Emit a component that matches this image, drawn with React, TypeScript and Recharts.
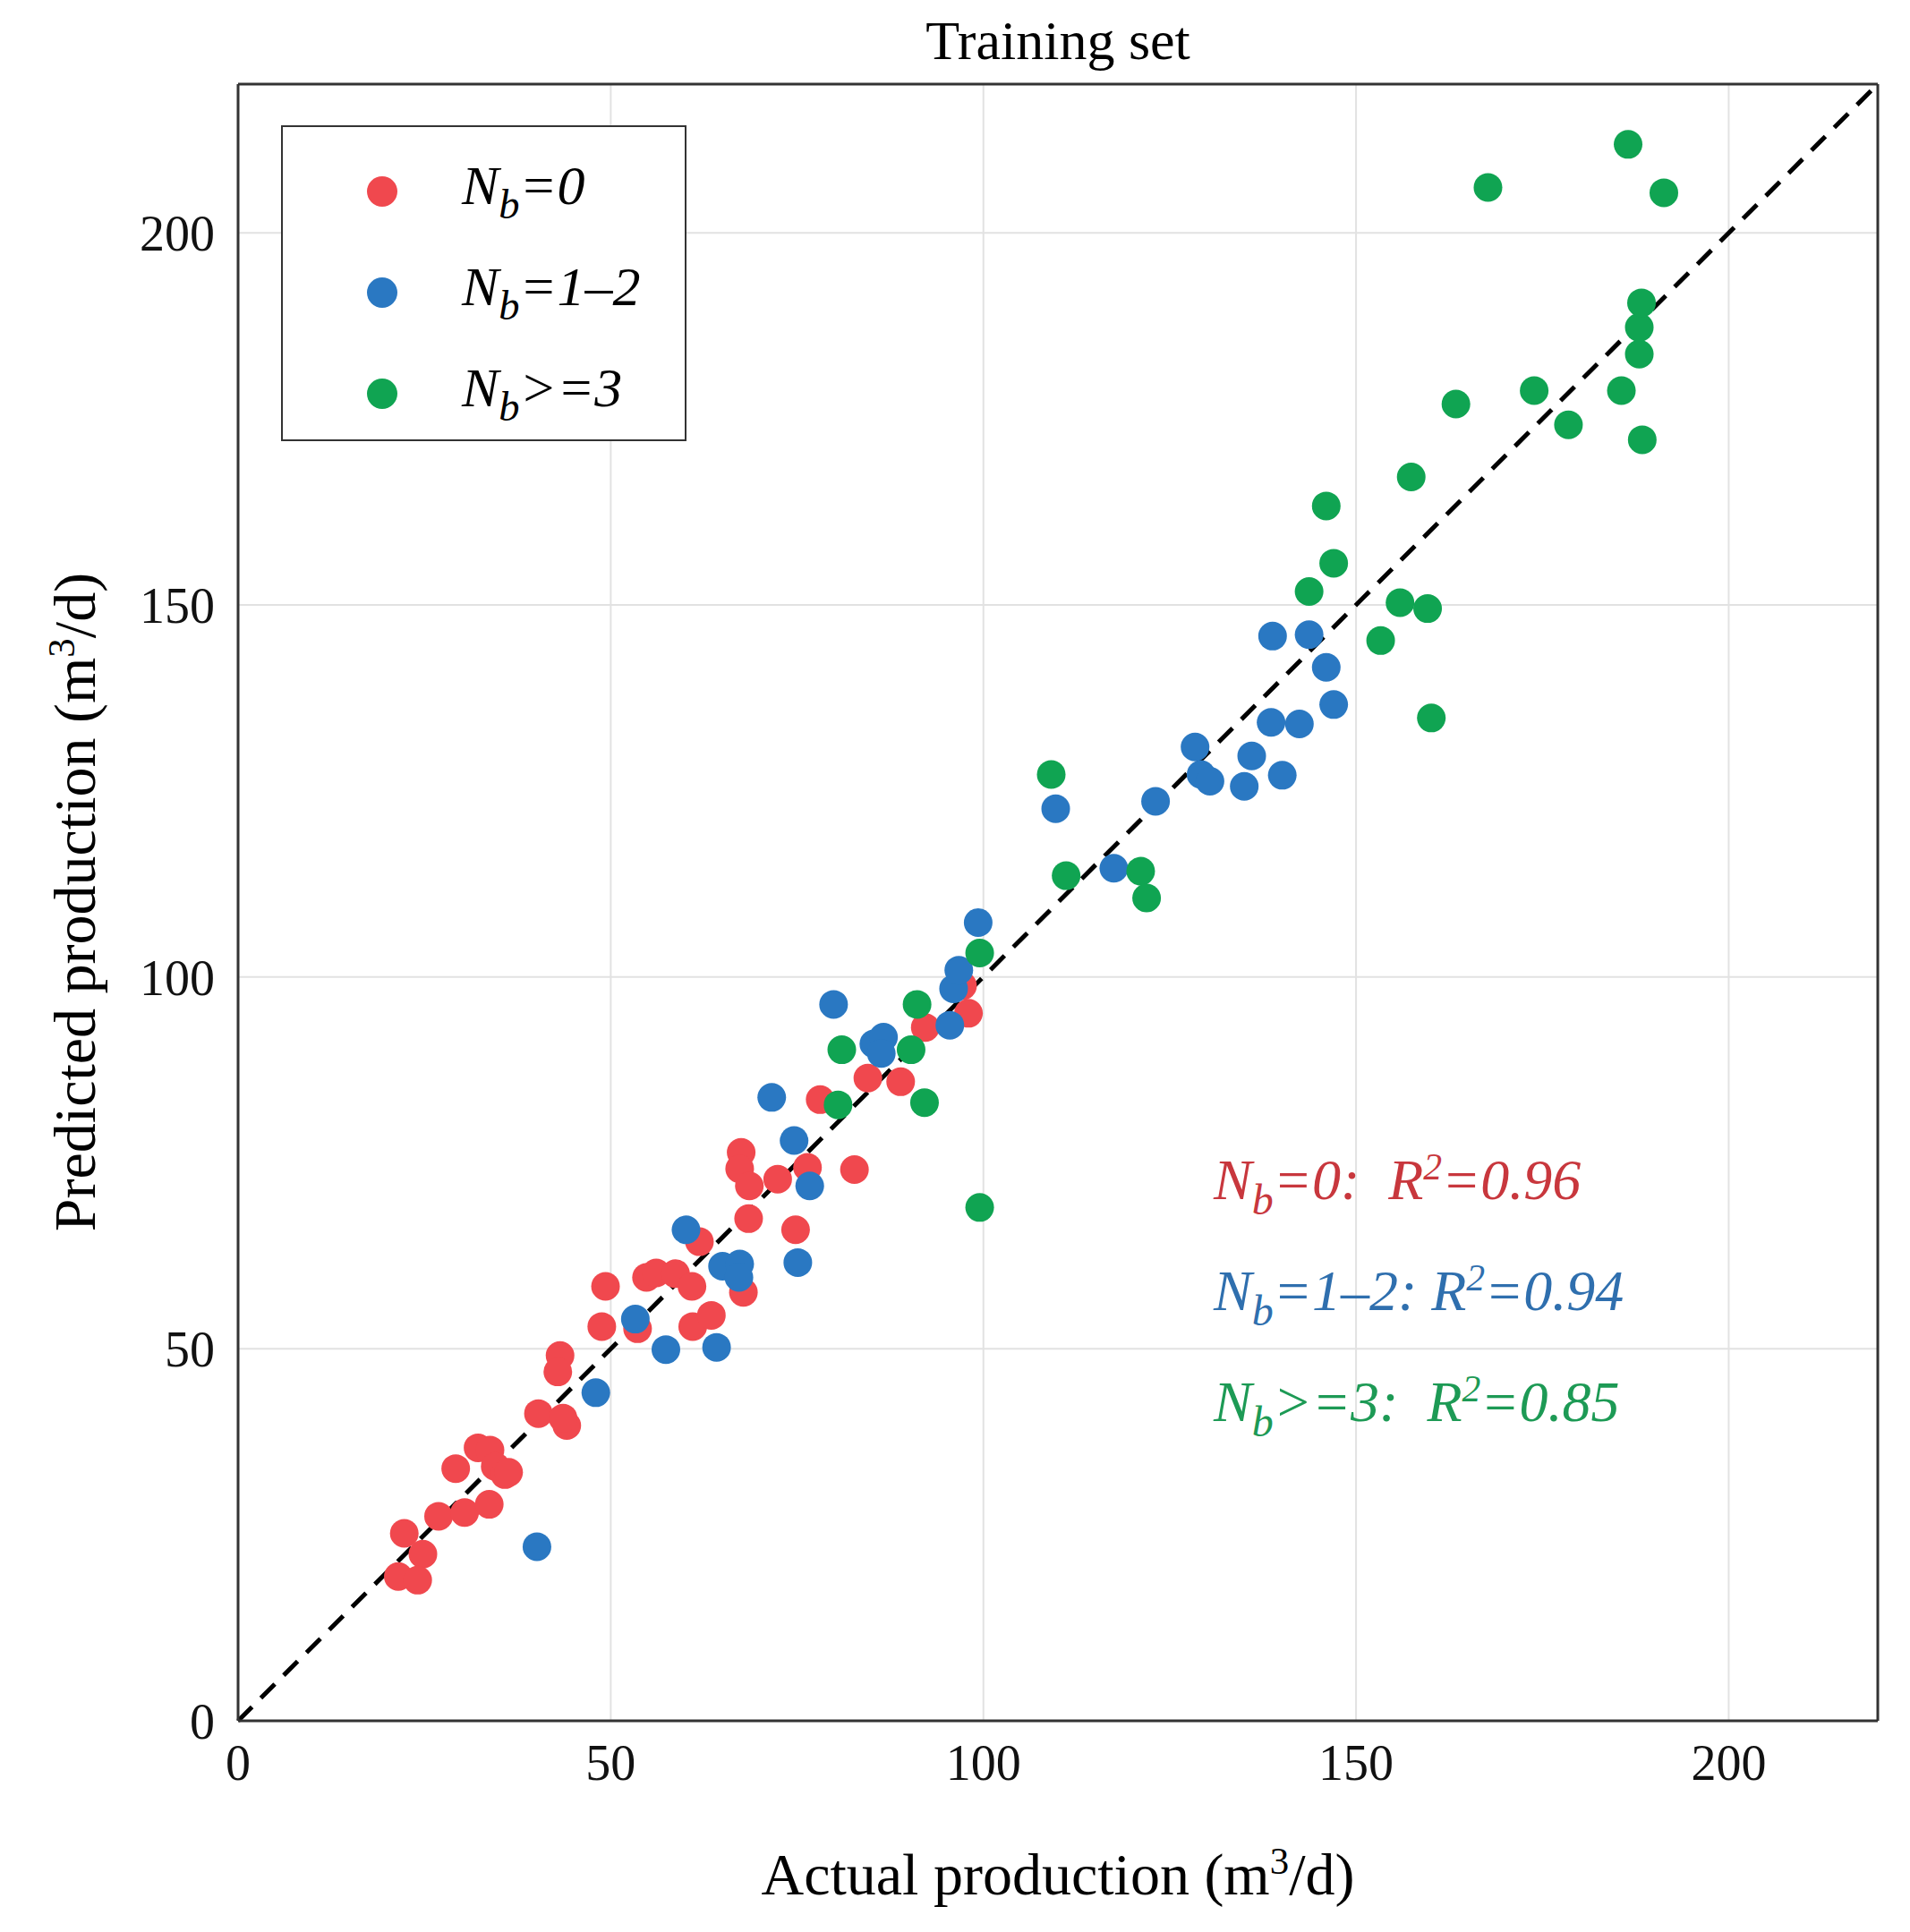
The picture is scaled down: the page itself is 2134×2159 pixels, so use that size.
import React from 'react';
import { ScatterChart, Scatter, XAxis, YAxis, CartesianGrid, ReferenceLine } from 'recharts';

const nb0X = [22.3,24.8,21.5,24.1,26.9,29.2,30.4,32.2,33.7,33.8,34.5,35.8,36.3,40.3,43.2,42.9,44.1,43.6,49.3,48.8,53.6,54.8,56.1,58.7,60.9,61,61.9,63.5,67.5,67.3,68.6,68.5,67.8,72.4,76.4,74.8,78.1,82.7,84.5,88.9,92.2,98,97.2];
const nb0Y = [25.2,22.4,19.4,18.9,27.5,33.9,28,36.7,29.1,36.4,34.2,33.1,33.4,41.3,49.1,46.9,39.7,40.7,58.4,53,52.7,59.6,60.2,60.1,58.4,53,64.4,54.5,76.4,74.2,71.9,67.5,57.6,72.8,74.4,66,83.5,74.1,86.4,85.9,93.2,95.1,98.8];
const nb12X = [40.1,48,53.3,57.4,60.1,64.2,65,67.3,67.2,71.6,74.6,75.1,76.7,79.9,85.3,86.6,86.3,95.5,96,96.7,99.3,109.7,117.5,123.1,128.4,129.2,130.4,135,136,138.8,138.6,140.1,142.4,143.7,146,147];
const nb12Y = [23.4,44.1,54,49.9,66,50.2,61.1,61.4,59.6,83.8,78,61.6,71.9,96.3,91,91.9,89.7,93.5,98.4,100.9,107.3,122.6,114.6,123.6,130.9,127.2,126.3,125.6,129.7,145.8,134.2,127.1,134,146,141.6,136.6];
const nb3X = [80.5,81,90.3,91.1,92.1,99.5,99.5,109.1,111.1,121.1,121.9,143.7,146,147,153.3,157.4,155.9,159.6,160.1,163.4,167.7,173.9,178.5,185.6,186.5,188,188,188.3,188.4,191.3];
const nb3Y = [82.8,90.2,90.2,96.3,83.1,103.2,69,127.2,113.6,114.2,110.6,151.8,163.3,155.6,145.2,167.2,150.3,149.5,134.8,177,206.1,178.8,174.2,178.8,211.9,183.7,187.3,190.6,172.2,205.4];
const ticks = [0, 50, 100, 150, 200];

const zip = (xs: number[], ys: number[]) => xs.map((x, i) => ({ x, y: ys[i] }));
const RED = '#f0484e', BLUE = '#2a78c2', GREEN = '#10a452';
const serif = '"Liberation Serif", "DejaVu Serif", serif';

const Dot = (props: any) => <circle cx={props.cx} cy={props.cy} r={16} fill={props.fill} />;

const Nb = ({ rest }: { rest: string }) => (
  <span style={{ fontStyle: 'italic' }}>N<sub style={{ fontSize: '0.75em', verticalAlign: '-0.35em' }}>b</sub>{rest}</span>
);

export default function App() {
  return (
    <div style={{ position: 'relative', width: 2134, height: 2159, margin: -8, fontFamily: serif, background: '#fff' }}>
      <ScatterChart width={2134} height={2159} margin={{ top: 94, right: 36, left: 0, bottom: 0 }}>
        <CartesianGrid stroke="#e2e2e2" strokeWidth={2} />
        <XAxis type="number" dataKey="x" domain={[0, 220]} ticks={ticks} height={236} tickLine={false}
          axisLine={{ stroke: '#333', strokeWidth: 3 }} tick={{ fontSize: 56, fill: '#111', fontFamily: serif }} tickMargin={20} />
        <YAxis type="number" dataKey="y" domain={[0, 220]} ticks={ticks} width={266} tickLine={false}
          axisLine={{ stroke: '#333', strokeWidth: 3 }} tick={{ fontSize: 56, fill: '#111', fontFamily: serif }} tickMargin={20} />
        <ReferenceLine x={220} stroke="#333" strokeWidth={3} />
        <ReferenceLine y={220} stroke="#333" strokeWidth={3} />
        <Scatter data={zip(nb0X, nb0Y)} fill={RED} shape={Dot} isAnimationActive={false} />
        <Scatter data={zip(nb12X, nb12Y)} fill={BLUE} shape={Dot} isAnimationActive={false} />
        <Scatter data={zip(nb3X, nb3Y)} fill={GREEN} shape={Dot} isAnimationActive={false} />
        <ReferenceLine segment={[{ x: 0, y: 0 }, { x: 220, y: 220 }]} stroke="#000" strokeWidth={5} strokeDasharray="22 14" />
      </ScatterChart>
      <div style={{ position: 'absolute', top: 10, left: 0, width: 2134, paddingLeft: 230, boxSizing: 'border-box', textAlign: 'center', fontSize: 62 }}>Training set</div>
      <div style={{ position: 'absolute', top: 2055, left: 266, width: 1832, textAlign: 'center', fontSize: 66 }}>Actual production (m<sup style={{ fontSize: '0.65em' }}>3</sup>/d)</div>
      <div style={{ position: 'absolute', left: 83, top: 1008, transform: 'translate(-50%,-50%) rotate(-90deg)', whiteSpace: 'nowrap', fontSize: 66 }}>Predicted production (m<sup style={{ fontSize: '0.65em' }}>3</sup>/d)</div>
      <div style={{ position: 'absolute', left: 314, top: 140, width: 453, height: 353, border: '2px solid #333', boxSizing: 'border-box', background: '#fff', fontSize: 62 }}>
        {[[RED, '=0'], [BLUE, '=1–2'], [GREEN, '>=3']].map(([c, t], i) => (
          <div key={i} style={{ position: 'absolute', left: 0, top: 30 + i * 113, display: 'flex', alignItems: 'center' }}>
            <span style={{ width: 34, height: 34, borderRadius: 17, background: c, marginLeft: 94, marginRight: 72, display: 'inline-block' }} />
            <Nb rest={t} />
          </div>
        ))}
      </div>
      {[[RED, '=0:  ', '0.96', '#c8373d'], [BLUE, '=1–2: ', '0.94', '#2f6fae'], [GREEN, '>=3:  ', '0.85', '#1d9a55']].map(([c, t, r, tc], i) => (
        <div key={i} style={{ position: 'absolute', left: 1356, top: 1280 + i * 124, fontSize: 64, color: tc, fontStyle: 'italic', whiteSpace: 'pre' }}>
          <Nb rest={t} />R<sup style={{ fontSize: '0.65em' }}>2</sup>={r}
        </div>
      ))}
    </div>
  );
}
